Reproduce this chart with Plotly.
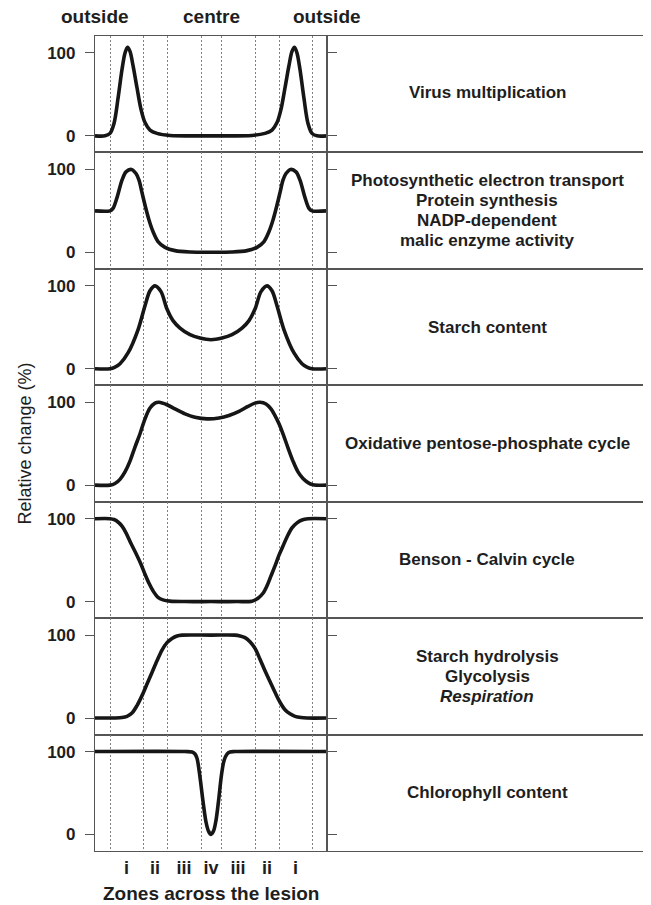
import plotly.graph_objects as go
from plotly.subplots import make_subplots

# ---------------- data ----------------
zone_bounds = [15, 48, 72, 106, 126, 160, 184, 217]
zone_centres = [31.5, 60, 89, 116, 143, 172, 200.5]
zone_labels = ["i", "ii", "iii", "iv", "iii", "ii", "i"]

virus_x = [0, 10, 15, 19, 23, 27, 30, 32.5, 35, 38, 42, 46, 50, 55, 62, 75, 116,
           157, 170, 177, 182, 186, 190, 194, 197, 199.5, 202, 205, 209, 213, 217, 222, 232]
virus_y = [0, 0, 3, 15, 45, 80, 100, 107, 102, 85, 58, 32, 16, 7, 3, 0.5, 0,
           0.5, 3, 7, 16, 32, 58, 85, 102, 107, 100, 80, 45, 15, 3, 0, 0]

photo_x = [0, 15, 18, 22, 27, 31, 36.5, 41, 44, 47, 50, 54, 58, 63, 70, 80, 95, 116,
           137, 152, 162, 169, 174, 178, 182, 185, 188, 191, 195.5, 201, 205, 210, 214, 217, 232]
photo_y = [50, 50, 53, 66, 87, 97, 100, 95, 87, 72, 57, 39, 25, 13, 6, 2, 0.3, 0,
           0.3, 2, 6, 13, 25, 39, 57, 72, 87, 95, 100, 97, 87, 66, 53, 50, 50]

starch_x = [0, 15, 20, 25, 33, 43, 50, 55, 60, 66, 72, 78, 85, 95, 105, 116,
            127, 137, 147, 154, 160, 166, 172, 177, 182, 189, 199, 207, 212, 217, 232]
starch_y = [0, 0, 2, 6, 19, 47, 76, 94, 100, 93, 72, 58, 49, 41, 37, 35,
            37, 41, 49, 58, 72, 93, 100, 94, 76, 47, 19, 6, 2, 0, 0]

oppc_x = [0, 15, 20, 25, 30, 35, 40, 45, 50, 55, 60, 64, 72, 80, 90, 100, 112,
          124, 134, 144, 153, 160, 165, 171, 176, 180, 184, 188, 193, 198, 203, 208, 213, 218, 232]
oppc_y = [0, 0, 2, 7, 16, 29, 46, 62, 80, 93, 99, 100, 97, 92, 86, 82, 80,
          81, 84, 89, 95, 99, 100, 98, 92, 84, 74, 62, 45, 29, 16, 8, 3, 0.5, 0]

calvin_x = [0, 15, 19, 23, 27, 31, 36, 41, 46, 50, 54, 58, 63, 68, 75, 90, 116,
            142, 157, 163, 168, 172, 176, 180, 184, 188, 192, 197, 202, 207, 213, 232]
calvin_y = [100, 100, 99, 96, 91, 83, 70, 58, 45, 33, 22, 13, 5, 2, 0.5, 0, 0,
            0, 0.5, 4, 10, 19, 31, 43, 56, 67, 78, 89, 95, 98.5, 100, 100]

hydro_x = [0, 20, 27, 32, 37, 42, 47, 52, 57, 62, 67, 72, 77, 82, 87, 116,
           140, 145, 150, 155, 160, 165, 170, 175, 180, 185, 190, 195, 200, 206, 212, 232]
hydro_y = [0, 0, 0.5, 2, 6, 15, 27, 41, 55, 69, 82, 91, 96, 99, 100, 100,
           100, 99, 97, 92, 84, 71, 57, 44, 31, 19, 10, 5, 2, 0.5, 0, 0]

chl_x = [0, 90, 97, 100, 102, 105, 108, 111, 113.5, 116, 118.5, 121, 123.5, 126.5, 129, 132, 135, 140, 232]
chl_y = [100, 100, 99.5, 97, 92, 69, 40, 15, 4, 0, 4, 17, 40, 72, 89, 97, 99.5, 100, 100]

series = [
    (virus_x, virus_y, ["Virus multiplication"]),
    (photo_x, photo_y, ["Photosynthetic electron transport", "Protein synthesis",
                        "NADP-dependent", "malic enzyme activity"]),
    (starch_x, starch_y, ["Starch content"]),
    (oppc_x, oppc_y, ["Oxidative pentose-phosphate cycle"]),
    (calvin_x, calvin_y, ["Benson - Calvin cycle"]),
    (hydro_x, hydro_y, ["Starch hydrolysis", "Glycolysis", "<i>Respiration</i>"]),
    (chl_x, chl_y, ["Chlorophyll content"]),
]

top_labels = [(0, "outside"), (116, "centre"), (232, "outside")]
y_ticks = [0, 100]

# ---------------- figure ----------------
FONT = "Liberation Sans, Arial, sans-serif"
TXT = "#1e1e1e"
FRAME = "#555555"
PAGE_OFFSET = 8  # default body margin of the html page

nrows = len(series)
fig = make_subplots(rows=nrows, cols=2, shared_xaxes=False, vertical_spacing=0,
                    horizontal_spacing=0, column_widths=[232, 320])

for i, (xs, ys, texts) in enumerate(series):
    r = i + 1
    fig.add_trace(go.Scatter(x=xs, y=ys, mode="lines",
                             line=dict(color="#161616", width=3.6, shape="spline", smoothing=0.9),
                             showlegend=False, hoverinfo="skip"), row=r, col=1)
    # invisible anchor trace so that the text-box subplot is drawn
    fig.add_trace(go.Scatter(x=[0.5], y=[0.5], mode="markers", marker=dict(opacity=0),
                             showlegend=False, hoverinfo="skip"), row=r, col=2)
    last = (r == nrows)
    # left column axes
    fig.update_xaxes(range=[0, 232], showline=True, mirror=True, linecolor=FRAME, linewidth=1.2,
                     showgrid=False, zeroline=False,
                     tickmode="array", tickvals=zone_centres, ticktext=zone_labels,
                     showticklabels=last, ticks="",
                     tickfont=dict(family=FONT, size=18, color=TXT, weight="bold"),
                     minor=dict(tickmode="array", tickvals=zone_bounds, showgrid=True,
                                griddash="2px,2px", gridcolor="#808080", gridwidth=1, ticks=""),
                     row=r, col=1)
    fig.update_yaxes(range=[-20, 120.5], showline=True, mirror="ticks", linecolor=FRAME, linewidth=1.2,
                     showgrid=False, zeroline=False, tickmode="array", tickvals=y_ticks,
                     ticks="outside", ticklen=9, tickwidth=1.2, tickcolor=FRAME,
                     ticklabelstandoff=6,
                     tickfont=dict(family=FONT, size=17, color=TXT, weight="bold"),
                     row=r, col=1)
    # right column (text boxes)
    fig.update_xaxes(range=[0, 1], showline=True, mirror=True, linecolor=FRAME, linewidth=1.2,
                     showgrid=False, zeroline=False, showticklabels=False, ticks="",
                     row=r, col=2)
    fig.update_yaxes(range=[0, 1], showline=True, mirror=True, linecolor=FRAME, linewidth=1.2,
                     showgrid=False, zeroline=False, showticklabels=False, ticks="",
                     row=r, col=2)
    idx = i * 2 + 2
    n = len(texts)
    for k, t in enumerate(texts):
        fig.add_annotation(xref=f"x{idx} domain", yref=f"y{idx} domain", x=0.5, y=0.5,
                           text=f"<b>{t}</b>", showarrow=False,
                           yshift=-(k - (n - 1) / 2) * 20 + (2 if n == 1 and i == 0 else 0),
                           font=dict(family=FONT, size=17, color=TXT))

for xv, t in top_labels:
    fig.add_annotation(xref="x", yref="paper", x=xv, y=1, yshift=20, yanchor="middle",
                       text=f"<b>{t}</b>", showarrow=False,
                       font=dict(family=FONT, size=19, color=TXT))

fig.add_annotation(xref="x13", yref="paper", x=116, y=0, yshift=-42, yanchor="middle",
                   text="<b>Zones across the lesion</b>", showarrow=False,
                   font=dict(family=FONT, size=19, color=TXT))

fig.add_annotation(xref="paper", yref="paper", x=0, xshift=-71, y=0.5, xanchor="center",
                   yanchor="middle", textangle=-90, text="Relative change (%)", showarrow=False,
                   font=dict(family=FONT, size=18, color=TXT))

fig.update_layout(width=651 - PAGE_OFFSET, height=905 - PAGE_OFFSET,
                  margin=dict(l=95 - PAGE_OFFSET, r=4, t=36 - PAGE_OFFSET, b=54, autoexpand=False),
                  paper_bgcolor="white", plot_bgcolor="white", showlegend=False)

fig.write_html("out.html")
